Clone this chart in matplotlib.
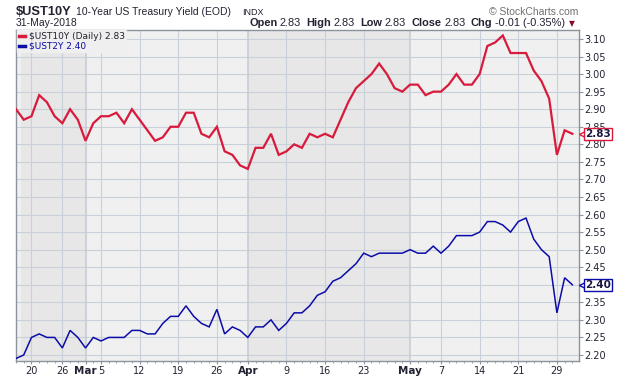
import numpy as np
import pandas as pd
import matplotlib
matplotlib.use("Agg")
import matplotlib.pyplot as plt
import matplotlib.transforms as mtransforms
from matplotlib.lines import Line2D

# trading days shown (bond market holidays left out)
holidays = ["2018-02-19", "2018-03-30", "2018-05-28"]
dates = pd.bdate_range("2018-02-15", "2018-05-31", freq="C", holidays=holidays)

ust10y = [2.90, 2.87, 2.88, 2.94, 2.92, 2.88, 2.86, 2.90, 2.87,
          2.81, 2.86, 2.88, 2.88, 2.89, 2.86, 2.90, 2.87, 2.84, 2.81, 2.82,
          2.85, 2.85, 2.89, 2.89, 2.83, 2.82, 2.85, 2.78, 2.77, 2.74,
          2.73, 2.79, 2.79, 2.83, 2.77, 2.78, 2.80, 2.79, 2.83, 2.82, 2.83,
          2.82, 2.87, 2.92, 2.96, 2.98, 3.00, 3.03, 3.00, 2.96, 2.95,
          2.97, 2.97, 2.94, 2.95, 2.95, 2.97, 3.00, 2.97, 2.97, 3.00, 3.08,
          3.09, 3.11, 3.06, 3.06, 3.06, 3.01, 2.98, 2.93, 2.77, 2.84, 2.83]
ust2y = [2.19, 2.20, 2.25, 2.26, 2.25, 2.25, 2.22, 2.27, 2.25,
         2.22, 2.25, 2.24, 2.25, 2.25, 2.25, 2.27, 2.27, 2.26, 2.26, 2.29,
         2.31, 2.31, 2.34, 2.31, 2.29, 2.28, 2.33, 2.26, 2.28, 2.27,
         2.25, 2.28, 2.28, 2.30, 2.27, 2.29, 2.32, 2.32, 2.34, 2.37, 2.38,
         2.41, 2.42, 2.44, 2.46, 2.49, 2.48, 2.49, 2.49, 2.49, 2.49,
         2.50, 2.49, 2.49, 2.51, 2.49, 2.51, 2.54, 2.54, 2.54, 2.55, 2.58,
         2.58, 2.57, 2.55, 2.58, 2.59, 2.53, 2.50, 2.48, 2.32, 2.42, 2.40]

tick_dates = ["2018-02-20", "2018-02-26", "2018-03-01", "2018-03-05", "2018-03-12",
              "2018-03-19", "2018-03-26", "2018-04-02", "2018-04-09", "2018-04-16",
              "2018-04-23", "2018-05-01", "2018-05-07", "2018-05-14", "2018-05-21",
              "2018-05-29"]
tick_labels = ["20", "26", "Mar", "5", "12", "19", "26", "Apr", "9", "16", "23",
               "May", "7", "14", "21", "29"]
month_starts = ["2018-03-01", "2018-04-02", "2018-05-01"]
y_ticks = np.round(np.arange(2.20, 3.101, 0.05), 2)

RED = "#d81a3c"
BLUE = "#0c0ca8"
W, H = 620, 376

x = np.arange(len(dates))
tick_pos = [dates.get_loc(pd.Timestamp(d)) for d in tick_dates]
month_pos = [dates.get_loc(pd.Timestamp(d)) for d in month_starts]

fig = plt.figure(figsize=(W / 100, H / 100), dpi=100)
ax = fig.add_axes([16 / W, (H - 360.5) / H, 563 / W, 331 / H])
ax.set_facecolor("#f0f0f0")

xl = (0.59, 72.86)
ax.set_xlim(xl)
ax.set_ylim(2.1843, 3.127)

# alternating month shading
edges = [xl[0]] + month_pos + [xl[1]]
for i in range(len(edges) - 1):
    ax.axvspan(edges[i], edges[i + 1], color="#e7e7e7" if i % 2 == 0 else "#f0f0f0",
               zorder=0, lw=0)

for v in y_ticks:
    ax.axhline(v, color="#cad0d9", lw=0.8, zorder=1)
for p in tick_pos:
    ax.axvline(p, color="#c4cad4" if p in month_pos else "#cad0d9",
               lw=1.1 if p in month_pos else 0.8, zorder=1)

ax.plot(x, ust10y, color=RED, lw=1.6, zorder=3, solid_joinstyle="miter")
ax.plot(x, ust2y, color=BLUE, lw=1.1, zorder=3, solid_joinstyle="miter")

for s in ax.spines.values():
    s.set_color("#8c939d")
    s.set_linewidth(1)

# the 2.40 axis label sits under the last-value tag
ax.yaxis.tick_right()
ax.set_yticks(y_ticks)
ax.set_yticklabels(["" if abs(v - ust2y[-1]) < 0.001 else f"{v:.2f}" for v in y_ticks])
ax.tick_params(axis="y", length=3, width=0.8, color="#8c939d", pad=1,
               labelsize=7, labelcolor="#222233")
ax.set_xticks(tick_pos)
ax.set_xticklabels(tick_labels)
ax.set_xticks(x, minor=True)
ax.tick_params(axis="x", which="major", length=2.5, width=0.8, color="#8c939d",
               pad=1.2, labelsize=7, labelcolor="#222233")
ax.tick_params(axis="x", which="minor", length=1.5, width=0.6, color="#8c939d")
for lab in ax.get_xticklabels():
    if lab.get_text() in ("Mar", "Apr", "May"):
        lab.set_fontweight("bold")
        lab.set_fontsize(7.5)

# legend
handles = [Line2D([], [], color=RED, lw=2.5), Line2D([], [], color=BLUE, lw=2.5)]
leg = ax.legend(handles, ["$UST10Y (Daily) 2.83", "$UST2Y 2.40"], loc="upper left",
                bbox_to_anchor=(0, 1), borderaxespad=0.1, fontsize=6.5,
                handlelength=0.7, handletextpad=0.4, labelspacing=0.05,
                borderpad=0.2, fancybox=False, framealpha=1,
                facecolor="#efefef", edgecolor="#efefef")
leg.get_texts()[0].set_color("#222233")
leg.get_texts()[1].set_color(BLUE)

# last value tags on the right axis
trans = mtransforms.blended_transform_factory(ax.transAxes, ax.transData)
for last, col in [(ust10y[-1], RED), (ust2y[-1], BLUE)]:
    ax.plot([1.0], [last], marker="<", ms=6, mfc="white", mec=col, mew=1,
            transform=trans + mtransforms.ScaledTranslation(4 / 100, 0, fig.dpi_scale_trans),
            clip_on=False, zorder=5)
    ax.text(1.0, last, f"{last:.2f}", transform=trans + mtransforms.ScaledTranslation(
        6 / 100, 0, fig.dpi_scale_trans), ha="left", va="center", fontsize=7.5,
        fontweight="bold", color="#1a1a40", clip_on=False, zorder=6,
        bbox=dict(boxstyle="square,pad=0.12", fc="white", ec=col, lw=1))

# header
hf = "Liberation Sans"
fig.text(16 / W, 1 - 15 / H, "$UST10Y", family=hf, weight="bold", fontsize=9.3,
         color="#222233", va="baseline")
fig.text(76 / W, 1 - 15 / H, "10-Year US Treasury Yield (EOD)", family=hf,
         fontsize=7.5, color="#222233", va="baseline")
fig.text(242 / W, 1 - 15 / H, "INDX", family=hf, fontsize=6.5, color="#222233",
         va="baseline")
fig.text(16 / W, 1 - 26 / H, "31-May-2018", family=hf, fontsize=7.5,
         color="#222233", va="baseline")
fig.text(578 / W, 1 - 15 / H, "\u00a9 StockCharts.com", family=hf, fontsize=7.5,
         color="#707070", va="baseline", ha="right")

ohlc = [("Open", True), ("2.83", False), ("High", True), ("2.83", False),
        ("Low", True), ("2.83", False), ("Close", True), ("2.83", False),
        ("Chg", True), ("-0.01 (-0.35%)", False)]
r = fig.canvas.get_renderer()
xp = 249
for i, (s, bold) in enumerate(ohlc):
    t = fig.text(xp / W, 1 - 26 / H, s, family=hf, fontsize=7.9,
                 weight="bold" if bold else "normal", color="#222233", va="baseline")
    xp = t.get_window_extent(r).x1 + (2.5 if bold else 5.5)
fig.text((xp - 1.5) / W, 1 - 23.5 / H, "\u25bc", fontsize=5.5, color="#8b0a2a",
         va="center", ha="left")

fig.savefig("out.png", dpi=100)
